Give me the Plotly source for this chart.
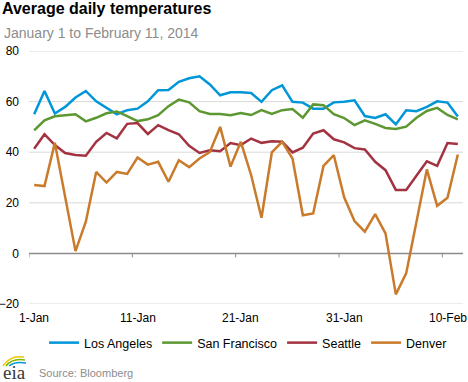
import plotly.graph_objects as go

# ---------------- data ----------------
days = [f"{d}-Jan" for d in range(1, 32)] + [f"{d}-Feb" for d in range(1, 12)]
tick_labels = ["1-Jan", "11-Jan", "21-Jan", "31-Jan", "10-Feb"]
y_ticks = [-20, 0, 20, 40, 60, 80]

los_angeles = [55, 64.2, 55.3, 57.9, 61.6, 64.2, 60.1, 57.5, 55, 56.6,
               57.2, 60.1, 64.5, 64.6, 67.8, 69.2, 70, 66.8, 62.5, 63.7,
               63.7, 63.4, 59.9, 64.5, 66.4, 59.9, 59.6, 57.2, 57.2, 59.7,
               59.9, 60.5, 54.3, 53.5, 55, 51, 56.6, 56.2, 57.9, 60.1,
               59.6, 54.1]
san_francisco = [48.6, 52.6, 54.2, 54.7, 55, 52.2, 53.6, 55.4, 56.1, 54.3,
                 52.3, 53, 54.6, 58.2, 60.8, 59.7, 56.2, 55.1, 55.1, 54.6,
                 55.5, 54.7, 56.6, 55.1, 56.6, 57.1, 53.6, 58.9, 58.6, 55,
                 53.5, 50.7, 52.6, 51.2, 49.6, 49.2, 50.1, 53.6, 56.3, 57.5,
                 54.7, 53]
seattle = [41.4, 47.1, 42.8, 39.7, 38.9, 38.6, 44.1, 47.6, 45.5, 51.2,
           51.5, 47.2, 50.7, 48.7, 47.1, 42.5, 39.7, 40.8, 40.4, 43.6,
           42.8, 45.4, 43.7, 44.3, 44.1, 39.9, 41.8, 47.4, 48.7, 45.1,
           43.9, 41.6, 41.1, 36.2, 32.9, 25.1, 25.1, 30.7, 36.4, 34.6,
           43.6, 43.2]
denver = [27, 26.6, 43.7, 22, 0.9, 12.5, 32.2, 28, 32.2, 31.4,
          37.9, 35.1, 36.2, 28.3, 36.8, 34.1, 37.5, 40.1, 50, 34.3,
          44.1, 30.9, 14.1, 39.9, 44.1, 37.5, 15.1, 15.8, 34.6, 38.8,
          22.2, 12.8, 8.6, 15.5, 7.9, -16.2, -7.9, 12.5, 33.2, 18.8,
          22, 39.1]

series_names = ["Los Angeles", "San Francisco", "Seattle", "Denver"]
series_values = [los_angeles, san_francisco, seattle, denver]
series_colors = ["#0096d7", "#5d9732", "#a33340", "#c97b2b"]

# ---------------- layout helpers ----------------
W, H = 468, 382
ML, MR, MT, MB = 29, 5, 51, 78
PW, PH = W - ML - MR, H - MT - MB
Y_MIN, Y_MAX = -20, 80
GRID = "#d9d9d9"
AXIS = "#8c8c8c"
TICK_PX = 4


def px_x(p):
    return (p - ML) / PW


def px_y(p):
    return (H - MB - p) / PH


FONT = "Liberation Sans, Arial, sans-serif"

n = len(days)
x_idx = [days.index(d) for d in days]          # category positions
x_lo, x_hi = -0.5, n - 0.5                      # category band edges
boundary_ticks = [days.index(t) - 0.5 for t in tick_labels]
tick_depth = TICK_PX * (Y_MAX - Y_MIN) / PH     # 4 px in data units

fig = go.Figure()

# grid lines (drawn first so they sit beneath the data)
for v in y_ticks:
    fig.add_trace(go.Scatter(
        x=[x_lo, x_hi], y=[v, v], mode="lines", showlegend=False,
        hoverinfo="skip",
        line=dict(color=AXIS if v == 0 else GRID,
                  width=1.5 if v == 0 else 1)))

# small tick marks below the zero line at category boundaries
for b in boundary_ticks:
    fig.add_trace(go.Scatter(
        x=[b, b], y=[0, -tick_depth], mode="lines", showlegend=False,
        hoverinfo="skip", line=dict(color=AXIS, width=1)))

for name, vals, col in zip(series_names, series_values, series_colors):
    fig.add_trace(go.Scatter(x=x_idx, y=vals, name=name, mode="lines",
                             text=days, hovertemplate="%{text}: %{y}",
                             line=dict(color=col, width=2.5)))

fig.update_layout(
    width=W, height=H,
    margin=dict(l=ML, r=MR, t=MT, b=MB, autoexpand=False),
    paper_bgcolor="white", plot_bgcolor="white",
    font=dict(family=FONT, size=12, color="#000"),
    showlegend=True,
    legend=dict(orientation="h", xref="container", yref="container",
                x=0.53, y=1 - 343 / H, xanchor="center", yanchor="middle",
                font=dict(size=12.5, color="#000"), itemwidth=30,
                tracegroupgap=0),
    xaxis=dict(range=[x_lo, x_hi], automargin=False,
               showticklabels=False, ticks="", showgrid=False,
               showline=False, zeroline=False),
    yaxis=dict(range=[Y_MIN, Y_MAX], automargin=False, tickmode="array",
               tickvals=y_ticks, ticks="", ticklabelstandoff=9,
               showgrid=False, zeroline=False, showline=False,
               tickfont=dict(size=12, color="#000")),
)

# x tick labels along the bottom edge of the plot
for lab in tick_labels:
    fig.add_annotation(x=days.index(lab), xref="x", y=px_y(318),
                       yref="paper", text=lab, showarrow=False,
                       xanchor="center", yanchor="middle",
                       font=dict(size=12, color="#000"))

annotations = [
    dict(text="<b>Average daily temperatures</b>", x=px_x(0), y=px_y(8),
         font=dict(size=16, color="#000", family=FONT)),
    dict(text="January 1 to February 11, 2014", x=px_x(2), y=px_y(33),
         font=dict(size=14, color="#8c8c8c", family=FONT)),
    dict(text="Source: Bloomberg", x=px_x(37), y=px_y(373),
         font=dict(size=11, color="#8c8c8c", family=FONT)),
    dict(text="eia", x=px_x(1), y=px_y(372),
         font=dict(size=19, color="#3a3a3a",
                   family="Liberation Serif, DejaVu Serif, serif")),
]
for a in annotations:
    fig.add_annotation(xref="paper", yref="paper", xanchor="left",
                       yanchor="middle", showarrow=False, **a)


def arc(p0, c, p1):
    return (f"M {px_x(p0[0])},{px_y(p0[1])} Q {px_x(c[0])},{px_y(c[1])} "
            f"{px_x(p1[0])},{px_y(p1[1])}")


for (p0, c, p1), col in [(((3, 366), (10, 355), (24, 357)), "#f2c500"),
                         (((6, 366), (12, 358), (25, 360)), "#7ab800"),
                         (((9, 366), (15, 361), (26, 363)), "#0096d7")]:
    fig.add_shape(type="path", xref="paper", yref="paper",
                  path=arc(p0, c, p1), line=dict(color=col, width=1.5))

fig.write_html("out.html",
               config={"displayModeBar": False},
               post_script="document.body.style.margin='0';")
